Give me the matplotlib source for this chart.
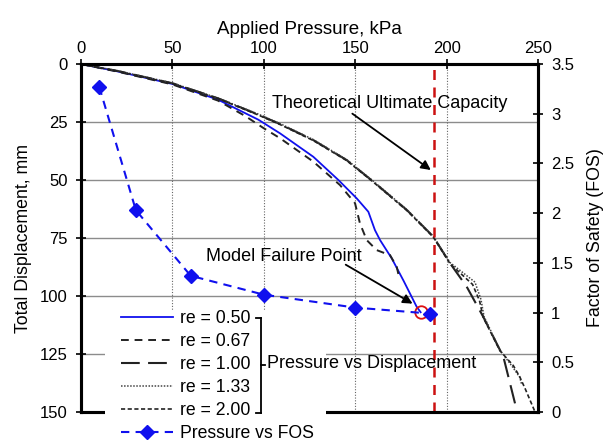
import matplotlib
matplotlib.use("Agg")
import matplotlib.pyplot as plt
from matplotlib.lines import Line2D
from matplotlib.patches import Rectangle

plt.rcParams['font.family'] = ['Liberation Sans', 'DejaVu Sans']

# ---------------- data ----------------
p_050 = [0, 20, 50, 75, 97, 108.9, 127.1, 140.8, 150.8, 157.2, 160.8, 163.6, 170, 176.5, 183.6, 185.8]
d_050 = [0, 3.2, 8.6, 15.4, 24, 29.9, 40, 50, 57.9, 63.7, 71.6, 75.9, 83.8, 93.5, 104.6, 107.0]

p_067 = [0, 20, 50, 75, 90, 99.6, 108.9, 127.1, 141.7, 149.9, 152.6, 156.3, 161.7, 166, 169, 172.7, 173.6]
d_067 = [0, 3.3, 8.8, 15.8, 22.5, 27.5, 32, 42.1, 52.2, 60, 68.7, 75.9, 80.2, 81.5, 82.3, 87.4, 90.5]

p_100 = [0, 20, 50, 75, 97, 108.9, 127.1, 145.3, 159.9, 178.2, 192.7, 201.9, 211, 220, 229.2, 231, 237.4, 238.3]
d_100 = [0, 3.0, 8.3, 14.8, 21.8, 25.9, 32.8, 41.4, 50.7, 62.9, 74.4, 85.9, 96, 108.9, 123.3, 126, 146.2, 150]

p_133 = [0, 20, 50, 75, 97, 108.9, 127.1, 145.3, 159.9, 178.2, 192.7, 201.9, 215.5, 218.8, 220.5, 229.2, 236, 240, 241.0]
d_133 = [0, 2.9, 8.2, 14.7, 21.6, 25.7, 32.6, 41.2, 50.5, 62.7, 74.2, 85.6, 94.0, 101.5, 108.9, 123.3, 130.5, 135, 138.0]

p_200 = [0, 20, 50, 75, 97, 108.9, 127.1, 145.3, 159.9, 178.2, 192.7, 201.9, 214.2, 218.0, 220, 229.2, 236.5, 240, 243, 248.4]
d_200 = [0, 3.1, 8.4, 14.9, 22.0, 26.1, 33.0, 41.6, 50.9, 63.1, 74.6, 86.1, 95.0, 102.0, 109.2, 123.6, 130.0, 134.8, 140, 150]

p_fos = [10, 30, 60, 100, 150, 191]
fos = [3.27, 2.03, 1.37, 1.18, 1.05, 0.99]

ultimate_p = 193
fail_p, fail_d = 185.8, 107.0

x_ticks = [0, 50, 100, 150, 200, 250]
y_ticks = [0, 25, 50, 75, 100, 125, 150]
fos_ticks = [0, 0.5, 1, 1.5, 2, 2.5, 3, 3.5]
fos_ticklabels = ['0', '0.5', '1', '1.5', '2', '2.5', '3', '3.5']

# ---------------- figure ----------------
W, H = 615, 443
fig = plt.figure(figsize=(W / 100, H / 100), dpi=100)
L, R, T, B = 81, 538, 64, 412
ax = fig.add_axes([L / W, 1 - B / H, (R - L) / W, (B - T) / H])
ax2 = ax.twinx()

FS = 12       # tick labels
FL = 13.5     # top axis label
FSIDE = 12.8  # side axis labels
FT = 13       # annotations / legend

ax.set_xlim(0, 250)
ax.set_ylim(150, 0)
ax2.set_ylim(0, 3.5)

ax.xaxis.tick_top()
ax.xaxis.set_label_position('top')
ax.set_xticks(x_ticks)
ax.set_yticks(y_ticks)
ax2.set_yticks(fos_ticks)
ax2.set_yticklabels(fos_ticklabels)

for a in (ax, ax2):
    for s in a.spines.values():
        s.set_linewidth(2.2)
        s.set_color('black')
ax.tick_params(axis='x', direction='inout', length=7, width=1.2, labelsize=FS, pad=2)
ax.tick_params(axis='y', direction='inout', length=7, width=1.2, labelsize=FS, pad=6)
ax2.tick_params(axis='y', direction='inout', length=7, width=1.2, labelsize=FS, pad=6)

ax.set_xlabel('Applied Pressure, kPa', fontsize=FL, labelpad=5)
ax.set_ylabel('Total Displacement, mm', fontsize=FSIDE, labelpad=6)
ax2.set_ylabel('Factor of Safety (FOS)', fontsize=FSIDE, labelpad=9)

# grid
for yv in y_ticks[1:-1]:
    ax.axhline(yv, color='#8c8c8c', lw=1.0, zorder=0)
for xv in x_ticks[1:-1]:
    ax.axvline(xv, color='#666666', lw=0.8, ls=(0, (1, 1.5)), zorder=0)

# curves
l050, = ax.plot(p_050, d_050, color='#1010ee', lw=1.3, label='re = 0.50')
l067, = ax.plot(p_067, d_067, color='#222222', lw=1.4, ls=(0, (4, 3)), label='re = 0.67')
l100, = ax.plot(p_100, d_100, color='#222222', lw=1.5, ls=(0, (9, 4)), label='re = 1.00')
l133, = ax.plot(p_133, d_133, color='#444444', lw=1.1, ls=(0, (1, 1)), label='re = 1.33')
l200, = ax.plot(p_200, d_200, color='#222222', lw=1.2, ls=(0, (2.5, 1.5)), label='re = 2.00')

ax.axvline(ultimate_p, color='#cc1111', lw=1.8, ls=(0, (4, 3)), zorder=3)
ax.plot([fail_p], [fail_d], 'o', ms=9, mfc='none', mec='#dd1111', mew=1.3, zorder=6)

lfos, = ax2.plot(p_fos, fos, color='#1010ee', lw=1.5, ls=(0, (4, 3)),
                 marker='D', ms=7.2, mfc='#1010ee', mec='#1010ee', label='Pressure vs FOS')

# annotations
ax.annotate('', xy=(192.6, 46.4), xytext=(147.2, 20.7),
            arrowprops=dict(arrowstyle='-|>', color='black', lw=1.3, mutation_scale=14))
ax.text(104.5, 16.9, 'Theoretical Ultimate Capacity', fontsize=FT, va='center', ha='left',
        zorder=7)
ax.annotate('', xy=(182.7, 103.9), xytext=(143.5, 85.9),
            arrowprops=dict(arrowstyle='-|>', color='black', lw=1.3, mutation_scale=14))
ax.text(68.5, 82.8, 'Model Failure Point', fontsize=FT, va='center', ha='left', zorder=7)


def fx(px):
    return px / W


def fy(py):
    return 1 - py / H


# white area behind the legend (covers part of the plot frame)
fig.add_artist(Rectangle((fx(105), 0), fx(326) - fx(105), fy(310), transform=fig.transFigure,
                         facecolor='white', edgecolor='none', zorder=5))

leg = fig.legend(handles=[l050, l067, l100, l133, l200, lfos], loc='upper left',
                 bbox_to_anchor=(fx(121), fy(310)), frameon=False, fontsize=FT - 0.3,
                 handlelength=2.95, handletextpad=0.42, labelspacing=0.34, borderpad=0.0,
                 borderaxespad=0.0)
leg.set_zorder(6)

# bracket
bx0, bx1 = fx(256), fx(261)
for yy in (318, 413):
    fig.add_artist(Line2D([bx0, bx1], [fy(yy), fy(yy)], color='black', lw=1.3, zorder=7))
fig.add_artist(Line2D([bx1, bx1], [fy(318), fy(413)], color='black', lw=1.3, zorder=7))
fig.add_artist(Line2D([bx1, fx(265)], [fy(365), fy(365)], color='black', lw=1.3, zorder=7))
fig.text(fx(267), fy(364), 'Pressure vs Displacement', fontsize=FT, va='center',
         ha='left', zorder=7)

fig.savefig('out.png', dpi=100)
